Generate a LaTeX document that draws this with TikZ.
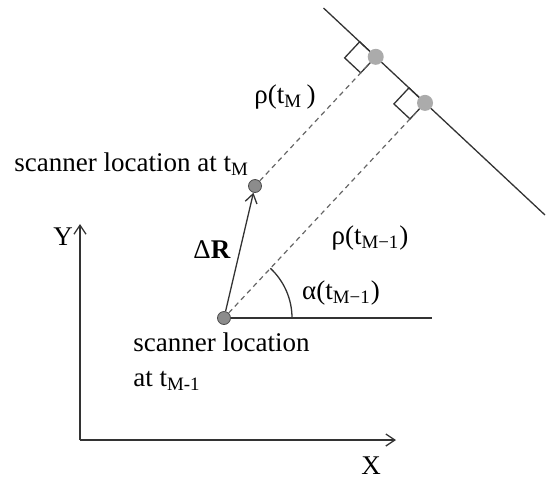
\documentclass[tikz,border=0pt]{standalone}
\usepackage{fontspec}
\setmainfont{Liberation Serif}
\usetikzlibrary{arrows.meta,calc,positioning}

\begin{document}
\begin{tikzpicture}[
        x=0.5pt, y=-0.5pt,
        scanner/.style={circle, draw=black!70, fill=black!45, inner sep=0pt, minimum size=6.5pt},
        hit/.style={circle, fill=black!33, inner sep=0pt, minimum size=8pt},
        ray/.style={draw=black!60, line width=0.6pt, dash pattern=on 2.5pt off 2pt},
        thin/.style={draw=black!80, line width=0.65pt},
        txt/.style={font=\fontsize{13.5}{17.5}\selectfont, inner sep=1pt},
        tip/.style={-{Straight Barb[length=4.5pt, width=6pt]}},
    ]
        \useasboundingbox (0,0) rectangle (558,478);

        % Scanner positions
        \node[scanner] (scanA) at (224,318) {};
        \node[scanner] (scanB) at (255,186) {};

        % Wall
        \coordinate (wallA) at (323.5,8);
        \coordinate (wallB) at (545,215);
        \draw[thin] (wallA) -- (wallB);

        % Feet of the perpendiculars and right angle marks
        \coordinate (footA) at ($(wallA)!(scanA)!(wallB)$);
        \coordinate (footB) at ($(wallA)!(scanB)!(wallB)$);
        \foreach \f/\s in {footA/scanA, footB/scanB} {
            \coordinate (m1) at ($(\f)!11pt!(wallA)$);
            \coordinate (m2) at ($(\f)!11pt!(\s)$);
            \draw[thin] (\f) -- (m1) -- ($(m1)+(m2)-(\f)$) -- (m2) -- cycle;
        }
        \node[hit] (hitA) at (footA) {};
        \node[hit] (hitB) at (footB) {};

        % Ranges
        \draw[ray] (scanA) -- (hitA);
        \draw[ray] (scanB) -- (hitB);

        % Heading
        \coordinate (horiz) at (432,318);
        \draw[thin] (scanA) -- (horiz);
        \draw[thin] ($(scanA)+(68,0)$) arc[start angle=0, end angle=-47, radius=68];

        % Displacement
        \draw[thin, tip] (scanA) -- (scanB);

        % Axes
        \coordinate (origin) at (80,440);
        \coordinate (xend) at (396,440);
        \coordinate (yend) at (80,224);
        \draw[thin, tip] (origin) -- (xend);
        \draw[thin, tip] (origin) -- (yend);

        % Labels
        \node[txt] (labY) at (63,237) {Y};
        \node[txt] (labX) at (371,466) {X};
        \node[txt, anchor=base west] (labB) at (12,171) {scanner location at t\textsubscript{M}};
        \node[txt, anchor=north west, align=left] (labA) at (131,330) {scanner location\\at t\textsubscript{M-1}};
        \node[txt] (labR) at (212,250) {Δ\textbf{R}};
        \node[txt] (rhoB) at (285,97) {ρ(t\textsubscript{M}\,)};
        \node[txt] (rhoA) at (370,238) {ρ(t\textsubscript{M−1})};
        \node[txt] (alpha) at (341,293) {α(t\textsubscript{M−1})};
    \end{tikzpicture}
\end{document}
